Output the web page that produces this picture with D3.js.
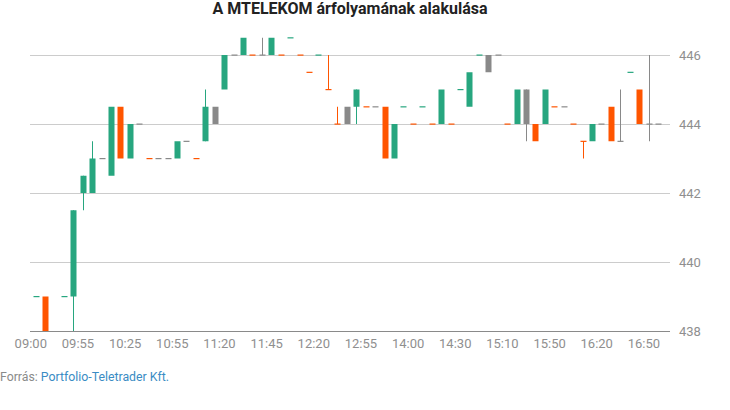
<!DOCTYPE html>
<html>
<head>
<meta charset="utf-8">
<script src="https://cdn.jsdelivr.net/npm/d3@7"></script>
<style>
  html, body { margin: 0; padding: 0; background: #fff; }
  svg { display: block; font-family: Roboto, "Noto Sans", sans-serif; }
</style>
</head>
<body>
<svg id="chart" width="730" height="410"></svg>
<script>
// ---- Data ----
const title = "A MTELEKOM árfolyamának alakulása";
const tickLabels = ["09:00","09:55","10:25","10:55","11:20","11:45","12:20","12:55","14:00","14:30","15:10","15:50","16:20","16:50"];
const yTicks = [438, 440, 442, 444, 446];
// one entry per trading slot (null = no candle)
const opens  = [439,439,null,439,439,442,442,443,442.5,444.5,443,444,443,443,443,443,443.5,443,443.5,444,445,446,446,446,446,446,446,446.5,446,445.5,446,445,444,444,444.5,444.5,444.5,444.5,443,444.5,444,444.5,444,444,444,445,444.5,446,445.5,446,444,444,444,444,444,444.5,444.5,444,443.5,443.5,444,444.5,443.5,445.5,445,444,444];
const highs  = [439,439,null,439,441.5,442.5,443.5,443,444.5,444.5,444,444,443,443,443,443.5,443.5,443,445,444.5,446,446,446.5,446,446.5,446.5,446,446.5,446,445.5,446,446,444.5,444.5,445,444.5,444.5,444.5,444,444.5,444,444.5,444,445,444,445,445.5,446,446,446,444,445,445,444,445,444.5,444.5,444,443.5,444,444,444.5,445,445.5,445,446,444];
const lows   = [439,438,null,439,438,441.5,442,443,442.5,443,443,444,443,443,443,443,443.5,443,443.5,444,445,446,446,446,446,446,446,446.5,446,445.5,446,445,444,444,444,444.5,444.5,443,443,444.5,444,444.5,444,444,444,445,444.5,446,445.5,446,444,444,443.5,443.5,444,444.5,444.5,444,443,443.5,444,443.5,443.5,445.5,444,443.5,444];
const closes = [439,438,null,439,441.5,442.5,443,443,444.5,443,444,444,443,443,443,443.5,443.5,443,444.5,444.5,446,446,446.5,446,446,446.5,446,446.5,446,445.5,446,445,444,444.5,445,444.5,444.5,443,444,444.5,444,444.5,444,445,444,445,445.5,446,446,446,444,445,445,443.5,445,444.5,444.5,444,443.5,444,444,443.5,443.5,445.5,444,444,444];
// u = up (teal), d = down (orange), f = unchanged (grey)
const moves  = ["u","d",null,"u","u","u","u","f","u","d","u","f","d","f","f","u","f","d","u","f","u","f","u","d","f","u","d","u","d","d","u","d","d","f","u","d","f","d","u","u","d","u","d","u","d","u","u","u","f","f","d","u","f","d","u","d","f","d","d","u","f","d","f","u","d","f","f"];
const slotCount = 68;
const sourceLabel = "Forrás: ";
const sourceName = "Portfolio-Teletrader Kft.";

// ---- Layout ----
const colors = { u: "#27a67f", d: "#ff5500", f: "#898989" };
const plotLeft = 30, plotRight = 670, plotBottom = 331;
const svg = d3.select("#chart");

const x = d3.scaleBand()
  .domain(d3.range(slotCount))
  .range([30.8, 672.2])
  .paddingInner(0.36)
  .paddingOuter(0.18);
const step = x.step();
const bw = 6;

const y = d3.scaleLinear().domain([438, 446]).range([plotBottom, 55]);

// Title
svg.append("text")
  .attr("x", (plotLeft + plotRight) / 2)
  .attr("y", 14)
  .attr("text-anchor", "middle")
  .attr("font-size", 16)
  .attr("font-weight", "bold")
  .attr("fill", "#222")
  .text(title);

// Gridlines + right y labels
const yAxis = d3.axisRight(y)
  .tickValues(yTicks)
  .tickSize(plotRight - plotLeft)
  .tickFormat(d3.format("d"));
const yg = svg.append("g")
  .attr("transform", `translate(${plotLeft},0)`)
  .call(yAxis);
yg.select(".domain").remove();
yg.selectAll(".tick line").attr("stroke", "#cccccc").attr("stroke-width", 1);
yg.selectAll(".tick text")
  .attr("x", plotRight - plotLeft + 9)
  .attr("fill", "#8f8f8f")
  .attr("font-size", 13)
  .attr("font-family", "Roboto, sans-serif");

// Bottom axis line
svg.append("line")
  .attr("x1", plotLeft).attr("x2", plotRight)
  .attr("y1", plotBottom + 0.5).attr("y2", plotBottom + 0.5)
  .attr("stroke", "#8a8a8a").attr("stroke-width", 1);

// X axis labels (at slot boundaries)
const labelIdx = tickLabels.map((_, k) => k * 5);
const xAxis = d3.axisBottom(x)
  .tickValues(labelIdx)
  .tickSize(0)
  .tickPadding(8)
  .tickFormat(i => tickLabels[i / 5]);
const xg = svg.append("g")
  .attr("transform", `translate(${-(x.bandwidth() / 2 + step * x.paddingInner() / 2)},${plotBottom})`)
  .call(xAxis);
xg.select(".domain").remove();
xg.selectAll(".tick text")
  .attr("fill", "#8f8f8f")
  .attr("font-size", 13)
  .attr("font-family", "Roboto, sans-serif");

// Candles
const candles = d3.range(opens.length)
  .filter(i => opens[i] !== null)
  .map(i => ({ i, o: opens[i], h: highs[i], l: lows[i], c: closes[i], m: moves[i] }));

const cx = d => Math.round(x(d.i) + x.bandwidth() / 2);

const g = svg.append("g");
g.selectAll("line.wick")
  .data(candles.filter(d => d.h > Math.max(d.o, d.c) || d.l < Math.min(d.o, d.c)))
  .join("line")
  .attr("class", "wick")
  .attr("x1", d => cx(d) + 0.5).attr("x2", d => cx(d) + 0.5)
  .attr("y1", d => y(d.h)).attr("y2", d => y(d.l))
  .attr("stroke", d => colors[d.m]).attr("stroke-width", 1);

g.selectAll("rect.body")
  .data(candles)
  .join("rect")
  .attr("class", "body")
  .attr("x", d => cx(d) - bw / 2 + 0.5)
  .attr("width", bw)
  .attr("y", d => d.o === d.c ? y(d.o) - 0.5 : y(Math.max(d.o, d.c)))
  .attr("height", d => d.o === d.c ? 1.2 : Math.abs(y(d.o) - y(d.c)))
  .attr("fill", d => colors[d.m]);

// Source
const src = svg.append("text")
  .attr("x", 0).attr("y", 381)
  .attr("font-size", 12.3);
src.append("tspan").attr("fill", "#8a8a8a").text(sourceLabel);
src.append("tspan").attr("fill", "#3a8cc4").text(sourceName);
</script>
</body>
</html>
